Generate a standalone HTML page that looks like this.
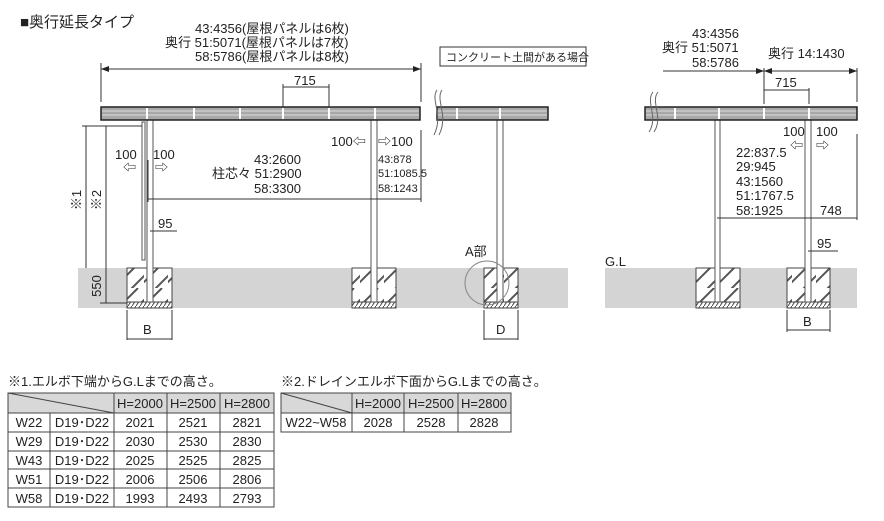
<!DOCTYPE html>
<html><head><meta charset="utf-8"><style>
html,body{margin:0;padding:0;background:#fff;}
svg{display:block;font-family:"Liberation Sans","Noto Sans CJK JP",sans-serif;}
</style></head><body>
<svg width="884" height="521" viewBox="0 0 884 521" xmlns="http://www.w3.org/2000/svg">
<defs>
<pattern id="h" patternUnits="userSpaceOnUse" width="24" height="24">
<rect width="24" height="24" fill="#fff"/>
<path d="M-6 24 L18 0 M6 30 L30 6" stroke="#555" stroke-width="2"/>
</pattern>
<pattern id="h2" patternUnits="userSpaceOnUse" width="4" height="6">
<rect width="4" height="6" fill="#fff"/>
<path d="M0 6 L4 0" stroke="#444" stroke-width="1"/>
</pattern>
<marker id="a" markerWidth="8" markerHeight="6" refX="8" refY="3" orient="auto-start-reverse" markerUnits="userSpaceOnUse"><path d="M0 0 L8 3 L0 6Z" fill="#222"/></marker>
</defs>
<g fill="#222" font-size="13">
<text x="20" y="27" font-size="15">■奥行延長タイプ</text>
<text x="195" y="33">43:4356(屋根パネルは6枚)</text>
<text x="165" y="47">奥行 51:5071(屋根パネルは7枚)</text>
<text x="195" y="61">58:5786(屋根パネルは8枚)</text>
</g>
<g stroke="#333" stroke-width="1" fill="none">
<line x1="101" y1="69" x2="421" y2="69" marker-start="url(#a)" marker-end="url(#a)"/>
<line x1="101" y1="63" x2="101" y2="102"/><line x1="421" y1="63" x2="421" y2="102"/>
<line x1="283" y1="87" x2="329" y2="87"/><line x1="283" y1="84" x2="283" y2="108"/><line x1="329" y1="84" x2="329" y2="108"/>
</g>
<text x="294" y="85" font-size="13" fill="#222">715</text>
<rect x="78" y="268" width="362" height="40" fill="#d4d4d4"/>
<rect x="430" y="268" width="138" height="40" fill="#d4d4d4"/>
<rect x="605" y="268" width="252" height="40" fill="#d4d4d4"/>
<g stroke="#444" stroke-width="1">
<rect x="127" y="268" width="45" height="40" fill="url(#h)"/>
<rect x="127" y="302" width="45" height="6" fill="url(#h2)"/>
<rect x="352" y="268" width="44" height="40" fill="url(#h)"/>
<rect x="352" y="302" width="44" height="6" fill="url(#h2)"/>
<rect x="484" y="268" width="34" height="40" fill="url(#h)"/>
<rect x="484" y="302" width="34" height="6" fill="url(#h2)"/>
<rect x="696" y="268" width="44" height="40" fill="url(#h)"/>
<rect x="696" y="302" width="44" height="6" fill="url(#h2)"/>
<rect x="787" y="268" width="43" height="40" fill="url(#h)"/>
<rect x="787" y="302" width="43" height="6" fill="url(#h2)"/>
</g>
<g fill="#fff" stroke="#555" stroke-width="1">
<rect x="147" y="120" width="6" height="182"/>
<rect x="142" y="122" width="3" height="138"/>
<rect x="371" y="120" width="6" height="182"/>
<rect x="497" y="120" width="6" height="182"/>
<rect x="715" y="120" width="5" height="182"/>
<rect x="805" y="120" width="6" height="182"/>
</g>
<g stroke="#222" stroke-width="1.5">
<rect x="101" y="107" width="319" height="13" fill="#a8a8a8"/>
<rect x="437" y="107" width="111" height="13" fill="#a8a8a8"/>
<rect x="645" y="107" width="212" height="13" fill="#a8a8a8"/>
</g>
<g stroke="#eee" stroke-width="0.8">
<line x1="102" y1="111" x2="419" y2="111"/><line x1="102" y1="115" x2="419" y2="115"/>
<line x1="438" y1="111" x2="547" y2="111"/><line x1="438" y1="115" x2="547" y2="115"/>
<line x1="646" y1="111" x2="856" y2="111"/><line x1="646" y1="115" x2="856" y2="115"/>
</g>
<g stroke="#fff" stroke-width="2">
<line x1="147" y1="108" x2="147" y2="119"/><line x1="194" y1="108" x2="194" y2="119"/><line x1="240" y1="108" x2="240" y2="119"/><line x1="283" y1="108" x2="283" y2="119"/><line x1="329" y1="108" x2="329" y2="119"/><line x1="375" y1="108" x2="375" y2="119"/>
<line x1="457" y1="108" x2="457" y2="119"/><line x1="500" y1="108" x2="500" y2="119"/>
<line x1="675" y1="108" x2="675" y2="119"/><line x1="719" y1="108" x2="719" y2="119"/><line x1="764" y1="108" x2="764" y2="119"/><line x1="809" y1="108" x2="809" y2="119"/>
</g>
<g stroke="#666" fill="none" stroke-width="1">
<path d="M437 90 C430 100 444 115 434 135"/><path d="M442 90 C435 100 449 115 439 135"/>
<path d="M653 92 C645 102 659 117 649 132"/><path d="M658 92 C650 102 664 117 654 132"/>
</g>
<g stroke="#333" stroke-width="1" fill="none">
<line x1="86" y1="126" x2="86" y2="268"/><line x1="82" y1="126" x2="142" y2="126"/>
<line x1="106" y1="126" x2="106" y2="303"/><line x1="100" y1="303" x2="127" y2="303"/>
<line x1="148" y1="199" x2="421" y2="199"/><line x1="421" y1="130" x2="421" y2="202"/><line x1="148" y1="160" x2="148" y2="202"/>
<line x1="150" y1="231" x2="177" y2="231"/>
<line x1="127" y1="310" x2="127" y2="340"/><line x1="172" y1="310" x2="172" y2="340"/><line x1="127" y1="339" x2="172" y2="339"/>
<line x1="484" y1="310" x2="484" y2="340"/><line x1="518" y1="310" x2="518" y2="340"/><line x1="484" y1="339" x2="518" y2="339"/>
<line x1="787" y1="310" x2="787" y2="332"/><line x1="830" y1="310" x2="830" y2="332"/><line x1="787" y1="330" x2="830" y2="330"/>
<circle cx="487" cy="283" r="22" stroke="#888"/>
</g>
<g fill="#222" font-size="13">
<text transform="translate(81,200) rotate(-90)" text-anchor="middle">※1</text>
<text transform="translate(101,200) rotate(-90)" text-anchor="middle">※2</text>
<text transform="translate(101,286) rotate(-90)" text-anchor="middle">550</text>
<text x="115" y="159">100</text><text x="153" y="159">100</text>
<text x="123" y="172">⇦</text><text x="155" y="172">⇨</text>
<text x="254" y="164">43:2600</text>
<text x="212" y="178">柱芯々 51:2900</text>
<text x="254" y="193">58:3300</text>
<text x="331" y="146">100⇦</text><text x="378" y="146">⇨100</text>
<text x="378" y="163" font-size="11">43:878</text>
<text x="378" y="177" font-size="11">51:1085.5</text>
<text x="378" y="192" font-size="11">58:1243</text>
<text x="158" y="228">95</text>
<text x="143" y="334">B</text>
<text x="465" y="256">A部</text>
<text x="496" y="334">D</text>
<text x="605" y="266">G.L</text>
</g>
<rect x="440" y="47" width="146" height="19" fill="#fff" stroke="#333"/>
<text x="446" y="61" font-size="11" fill="#222">コンクリート土間がある場合</text>
<g fill="#222" font-size="13">
<text x="692" y="38">43:4356</text>
<text x="662" y="52">奥行 51:5071</text>
<text x="692" y="67">58:5786</text>
<text x="768" y="58">奥行 14:1430</text>
<text x="775" y="87">715</text>
<text x="783" y="136">100</text><text x="816" y="136">100</text>
<text x="790" y="150">⇦</text><text x="816" y="150">⇨</text>
<text x="736" y="157">22:837.5</text>
<text x="736" y="171">29:945</text>
<text x="736" y="186">43:1560</text>
<text x="736" y="200">51:1767.5</text>
<text x="736" y="215">58:1925</text>
<text x="820" y="215">748</text>
<text x="817" y="248">95</text>
<text x="803" y="326">B</text>
</g>
<g stroke="#333" stroke-width="1" fill="none">
<line x1="663" y1="71" x2="764" y2="71" marker-end="url(#a)"/>
<line x1="764" y1="71" x2="857" y2="71" marker-start="url(#a)" marker-end="url(#a)"/>
<line x1="764" y1="68" x2="764" y2="104"/><line x1="857" y1="68" x2="857" y2="102"/>
<line x1="764" y1="90" x2="809" y2="90"/><line x1="809" y1="88" x2="809" y2="104"/>
<line x1="717" y1="218" x2="857" y2="218"/><line x1="857" y1="134" x2="857" y2="220"/>
<line x1="808" y1="251" x2="838" y2="251"/>
</g>
<g fill="#222" font-size="13">
<text x="8" y="386">※1.エルボ下端からG.Lまでの高さ。</text>
<text x="281" y="386">※2.ドレインエルボ下面からG.Lまでの高さ。</text>
</g>
<g stroke="#444" stroke-width="1">
<rect x="8" y="393" width="266" height="20" fill="#d8d8d8"/>
<rect x="8" y="413" width="266" height="94" fill="#fff"/>
<line x1="114" y1="393" x2="114" y2="507"/><line x1="167" y1="393" x2="167" y2="507"/><line x1="220" y1="393" x2="220" y2="507"/>
<line x1="50" y1="413" x2="50" y2="507"/>
<line x1="8" y1="432" x2="274" y2="432"/><line x1="8" y1="451" x2="274" y2="451"/><line x1="8" y1="469" x2="274" y2="469"/><line x1="8" y1="488" x2="274" y2="488"/>
<line x1="8" y1="393" x2="114" y2="413"/>
<rect x="281" y="393" width="230" height="20" fill="#d8d8d8"/>
<rect x="281" y="413" width="230" height="19" fill="#fff"/>
<line x1="352" y1="393" x2="352" y2="432"/><line x1="404" y1="393" x2="404" y2="432"/><line x1="458" y1="393" x2="458" y2="432"/>
<line x1="281" y1="393" x2="352" y2="413"/>
</g>
<g fill="#222" font-size="13" text-anchor="middle">
<text x="140" y="408">H=2000</text><text x="193" y="408">H=2500</text><text x="247" y="408">H=2800</text>
<text x="29" y="427">W22</text><text x="82" y="427">D19･D22</text><text x="140" y="427">2021</text><text x="193" y="427">2521</text><text x="247" y="427">2821</text>
<text x="29" y="446">W29</text><text x="82" y="446">D19･D22</text><text x="140" y="446">2030</text><text x="193" y="446">2530</text><text x="247" y="446">2830</text>
<text x="29" y="465">W43</text><text x="82" y="465">D19･D22</text><text x="140" y="465">2025</text><text x="193" y="465">2525</text><text x="247" y="465">2825</text>
<text x="29" y="484">W51</text><text x="82" y="484">D19･D22</text><text x="140" y="484">2006</text><text x="193" y="484">2506</text><text x="247" y="484">2806</text>
<text x="29" y="503">W58</text><text x="82" y="503">D19･D22</text><text x="140" y="503">1993</text><text x="193" y="503">2493</text><text x="247" y="503">2793</text>
<text x="378" y="408">H=2000</text><text x="431" y="408">H=2500</text><text x="484" y="408">H=2800</text>
<text x="316" y="427">W22~W58</text><text x="378" y="427">2028</text><text x="431" y="427">2528</text><text x="484" y="427">2828</text>
</g>
</svg>
</body></html>
